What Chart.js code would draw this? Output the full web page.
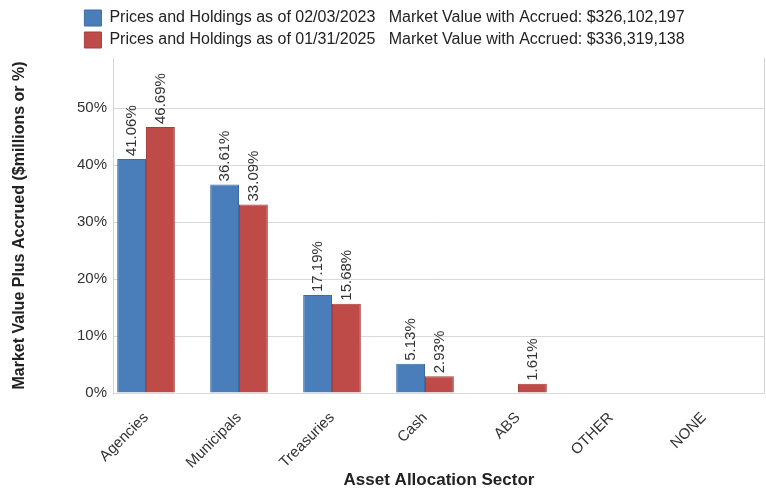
<!DOCTYPE html>
<html>
<head>
<meta charset="utf-8">
<script src="https://cdn.jsdelivr.net/npm/chart.js@4.4.1/dist/chart.umd.min.js"></script>
<style>
  html, body { margin: 0; padding: 0; background: #fff; }
  canvas { display: block; }
</style>
</head>
<body>
<canvas id="chart" width="766" height="495"></canvas>
<script>
// Sectors on the x axis
const sectors = ['Agencies', 'Municipals', 'Treasuries', 'Cash', 'ABS', 'OTHER', 'NONE'];

// Percent of market value per sector
const pct2023 = [41.06, 36.61, 17.19, 5.13, 0, 0, 0];
const pct2025 = [46.69, 33.09, 15.68, 2.93, 1.61, 0, 0];

// Legend text
const seriesDates = ['Prices and Holdings as of 02/03/2023', 'Prices and Holdings as of 01/31/2025'];
const seriesTotals = ['$326,102,197', '$336,319,138'];

const yTicks = [0, 10, 20, 30, 40, 50];

const FONT = '"Liberation Sans", Arial, sans-serif';

// Rotated value labels over each bar, plus right frame line
const barLabels = {
    id: 'barLabels',
    beforeDatasetsDraw(chart) {
        const { ctx, chartArea } = chart;
        ctx.save();
        ctx.strokeStyle = '#d4d4d4';
        ctx.lineWidth = 1;
        ctx.beginPath();
        ctx.moveTo(chartArea.right - 0.5, chartArea.top);
        ctx.lineTo(chartArea.right - 0.5, chartArea.bottom);
        ctx.stroke();
        ctx.restore();
    },
    afterDatasetsDraw(chart) {
        const ctx = chart.ctx;
        ctx.save();
        ctx.font = '15px ' + FONT;
        ctx.fillStyle = '#333';
        ctx.textAlign = 'left';
        ctx.textBaseline = 'middle';
        chart.data.datasets.forEach((ds, i) => {
            chart.getDatasetMeta(i).data.forEach((bar, j) => {
                const v = ds.data[j].y;
                if (!v) return;
                ctx.save();
                ctx.translate(bar.x, bar.y - 3);
                ctx.rotate(-Math.PI / 2);
                ctx.fillText(v.toFixed(2) + '%', 0, 0);
                ctx.restore();
            });
        });
        ctx.restore();
    }
};

const toPoints = arr => arr.map((v, i) => ({ x: i, y: v }));

new Chart(document.getElementById('chart'), {
    type: 'bar',
    data: {
        datasets: [
            {
                label: seriesDates[0] + '   Market Value with Accrued: ' + seriesTotals[0],
                data: toPoints(pct2023),
                backgroundColor: '#4a7ebb',
                borderColor: '#3d6ba3',
                borderWidth: 1
            },
            {
                label: seriesDates[1] + '   Market Value with Accrued: ' + seriesTotals[1],
                data: toPoints(pct2025),
                backgroundColor: '#be4b48',
                borderColor: '#a33f3c',
                borderWidth: 1
            }
        ]
    },
    options: {
        responsive: false,
        animation: false,
        devicePixelRatio: 1,
        categoryPercentage: 0.62,
        barPercentage: 1.0,
        layout: { padding: { top: 4, right: 1, left: 4, bottom: 0 } },
        plugins: {
            tooltip: { enabled: false },
            legend: {
                position: 'top',
                align: 'center',
                labels: {
                    boxWidth: 17,
                    boxHeight: 16,
                    padding: 6,
                    color: '#222',
                    font: { family: FONT, size: 16 }
                }
            }
        },
        scales: {
            x: {
                type: 'linear',
                offset: false,
                min: -0.355,
                max: 6.656,
                grid: { display: false, offset: false },
                border: { display: false },
                afterBuildTicks: scale => {
                    scale.ticks = sectors.map((s, i) => ({ value: i }));
                },
                afterFit: scale => { scale.height = 102; },
                ticks: {
                    autoSkip: false,
                    minRotation: 45,
                    maxRotation: 45,
                    padding: 8,
                    color: '#333',
                    font: { family: FONT, size: 15 },
                    callback: v => sectors[v] ?? ''
                },
                title: {
                    display: true,
                    text: 'Asset Allocation Sector',
                    color: '#222',
                    padding: { top: 0, bottom: 4 },
                    font: { family: FONT, size: 17, weight: 'bold' }
                }
            },
            y: {
                min: 0,
                max: 58.8,
                afterBuildTicks: scale => {
                    scale.ticks = yTicks.map(v => ({ value: v }));
                },
                afterFit: scale => { scale.width = 109; },
                grid: { color: '#d9d9d9', drawTicks: false },
                border: { color: '#d4d4d4' },
                ticks: {
                    padding: 6,
                    color: '#333',
                    font: { family: FONT, size: 15 },
                    callback: v => v + '%'
                },
                title: {
                    display: true,
                    text: 'Market Value Plus Accrued ($millions or %)',
                    color: '#222',
                    padding: { top: 6, bottom: 0 },
                    font: { family: FONT, size: 16, weight: 'bold' }
                }
            }
        }
    },
    plugins: [barLabels]
});
</script>
</body>
</html>
